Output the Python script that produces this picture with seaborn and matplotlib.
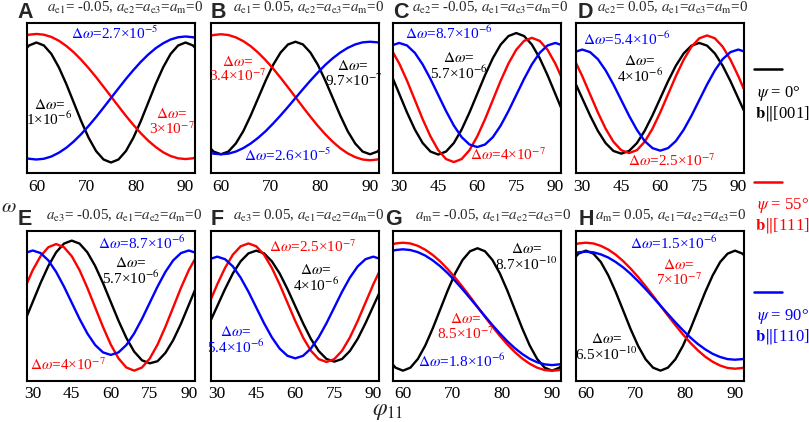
import matplotlib
matplotlib.use("Agg")
import matplotlib.pyplot as plt
import seaborn as sns
import pandas as pd

# sample grids of phi_11 (deg)
phi_narrow = [57, 58.5, 60, 61.5, 63, 64.5, 66, 67.5, 69, 70.5, 72, 73.5, 75,
              76.5, 78, 79.5, 81, 82.5, 84, 85.5, 87, 88.5, 90, 91.5, 93]
phi_wide = [27, 30, 33, 36, 39, 42, 45, 48, 51, 54, 57, 60, 63, 66, 69, 72, 75, 78, 81, 84, 87, 90, 93]

# normalised omega (0 = bottom of frame, 1 = top)
A_black = [0.794, 0.850, 0.870, 0.850, 0.794, 0.705, 0.594, 0.470, 0.346, 0.235, 0.146, 0.090, 0.070,
           0.090, 0.146, 0.235, 0.346, 0.470, 0.594, 0.705, 0.794, 0.850, 0.870, 0.850, 0.794]
A_red = [0.907, 0.922, 0.927, 0.922, 0.907, 0.882, 0.847, 0.805, 0.755, 0.699, 0.639, 0.575, 0.510,
         0.445, 0.381, 0.321, 0.265, 0.215, 0.173, 0.138, 0.113, 0.098, 0.093, 0.098, 0.113]
A_blue = [0.110, 0.095, 0.090, 0.095, 0.110, 0.135, 0.168, 0.210, 0.259, 0.314, 0.373, 0.436, 0.500,
          0.564, 0.627, 0.686, 0.741, 0.790, 0.832, 0.865, 0.890, 0.905, 0.910, 0.905, 0.890]

B_black = [0.197, 0.143, 0.125, 0.143, 0.197, 0.279, 0.384, 0.500, 0.616, 0.721, 0.803, 0.857, 0.875,
           0.857, 0.803, 0.721, 0.616, 0.500, 0.384, 0.279, 0.197, 0.143, 0.125, 0.143, 0.197]
B_red = [0.904, 0.920, 0.925, 0.920, 0.904, 0.879, 0.845, 0.802, 0.752, 0.696, 0.635, 0.571, 0.505,
         0.439, 0.375, 0.314, 0.258, 0.208, 0.165, 0.131, 0.106, 0.090, 0.085, 0.090, 0.106]
B_blue = [0.143, 0.129, 0.125, 0.129, 0.143, 0.166, 0.197, 0.235, 0.279, 0.330, 0.384, 0.441, 0.500,
          0.559, 0.616, 0.670, 0.721, 0.765, 0.803, 0.834, 0.857, 0.871, 0.875, 0.871, 0.857]

C_black = [0.653, 0.528, 0.403, 0.290, 0.200, 0.143, 0.123, 0.143, 0.200, 0.290, 0.403, 0.528, 0.653, 0.766, 0.856, 0.913, 0.933, 0.913, 0.856, 0.766, 0.653, 0.528, 0.403]
C_red = [0.822, 0.730, 0.615, 0.487, 0.359, 0.244, 0.152, 0.093, 0.073, 0.093, 0.152, 0.244, 0.359, 0.487, 0.615, 0.730, 0.822, 0.881, 0.901, 0.881, 0.822, 0.730, 0.615]
C_blue = [0.850, 0.867, 0.850, 0.801, 0.724, 0.627, 0.520, 0.413, 0.316, 0.239, 0.190, 0.173, 0.190, 0.239, 0.316, 0.413, 0.520, 0.627, 0.724, 0.801, 0.850, 0.867, 0.850]

D_black = [0.612, 0.498, 0.384, 0.281, 0.199, 0.147, 0.129, 0.147, 0.199, 0.281, 0.384, 0.498, 0.612, 0.715, 0.797, 0.849, 0.867, 0.849, 0.797, 0.715, 0.612, 0.498, 0.384]
D_red = [0.755, 0.646, 0.525, 0.404, 0.295, 0.208, 0.152, 0.133, 0.152, 0.208, 0.295, 0.404, 0.525, 0.646, 0.755, 0.842, 0.898, 0.917, 0.898, 0.842, 0.755, 0.646, 0.525]
D_blue = [0.806, 0.823, 0.806, 0.759, 0.684, 0.590, 0.486, 0.382, 0.288, 0.213, 0.166, 0.149, 0.166, 0.213, 0.288, 0.382, 0.486, 0.590, 0.684, 0.759, 0.806, 0.823, 0.806]

E_black = [0.399, 0.525, 0.651, 0.765, 0.856, 0.914, 0.934, 0.914, 0.856, 0.765, 0.651, 0.525, 0.399, 0.285, 0.194, 0.136, 0.116, 0.130, 0.185, 0.270, 0.380, 0.505, 0.630]
E_red = [0.619, 0.737, 0.830, 0.890, 0.911, 0.890, 0.830, 0.737, 0.619, 0.489, 0.359, 0.241, 0.148, 0.088, 0.067, 0.088, 0.148, 0.241, 0.359, 0.489, 0.619, 0.737, 0.830]
E_blue = [0.851, 0.868, 0.851, 0.802, 0.725, 0.628, 0.520, 0.412, 0.315, 0.238, 0.189, 0.172, 0.189, 0.238, 0.315, 0.412, 0.520, 0.628, 0.725, 0.802, 0.851, 0.868, 0.851]

F_black = [0.383, 0.497, 0.611, 0.715, 0.796, 0.849, 0.867, 0.849, 0.796, 0.715, 0.611, 0.497, 0.383, 0.279, 0.198, 0.145, 0.127, 0.145, 0.198, 0.279, 0.383, 0.497, 0.611]
F_red = [0.520, 0.642, 0.752, 0.840, 0.896, 0.915, 0.896, 0.840, 0.752, 0.642, 0.520, 0.398, 0.288, 0.200, 0.144, 0.125, 0.144, 0.200, 0.288, 0.398, 0.520, 0.642, 0.752]
F_blue = [0.810, 0.827, 0.810, 0.762, 0.687, 0.593, 0.488, 0.383, 0.289, 0.214, 0.166, 0.149, 0.166, 0.214, 0.289, 0.383, 0.488, 0.593, 0.687, 0.762, 0.810, 0.827, 0.810]

G_black = [0.145, 0.087, 0.067, 0.087, 0.145, 0.235, 0.349, 0.475, 0.601, 0.715, 0.805, 0.863, 0.883,
           0.863, 0.805, 0.715, 0.601, 0.475, 0.349, 0.235, 0.145, 0.087, 0.067, 0.087, 0.145]
G_red = [0.899, 0.915, 0.920, 0.915, 0.899, 0.873, 0.838, 0.795, 0.744, 0.687, 0.625, 0.560, 0.493,
         0.426, 0.361, 0.299, 0.242, 0.191, 0.148, 0.113, 0.087, 0.071, 0.066, 0.071, 0.087]
G_blue = [0.857, 0.871, 0.876, 0.871, 0.857, 0.834, 0.802, 0.763, 0.717, 0.665, 0.609, 0.550, 0.490,
          0.430, 0.371, 0.315, 0.263, 0.217, 0.178, 0.146, 0.123, 0.109, 0.104, 0.109, 0.123]

H_black = [0.791, 0.847, 0.867, 0.847, 0.791, 0.702, 0.591, 0.467, 0.343, 0.232, 0.143, 0.087, 0.067,
           0.087, 0.143, 0.232, 0.343, 0.467, 0.591, 0.702, 0.791, 0.847, 0.867, 0.847, 0.791]
H_red = [0.899, 0.915, 0.920, 0.915, 0.899, 0.874, 0.840, 0.797, 0.747, 0.691, 0.630, 0.566, 0.500,
         0.434, 0.370, 0.309, 0.253, 0.203, 0.160, 0.126, 0.101, 0.085, 0.080, 0.085, 0.101]
H_blue = [0.842, 0.856, 0.860, 0.856, 0.842, 0.821, 0.791, 0.755, 0.712, 0.663, 0.611, 0.556, 0.500,
          0.444, 0.389, 0.337, 0.288, 0.245, 0.209, 0.179, 0.158, 0.144, 0.140, 0.144, 0.158]

letters = ["A", "B", "C", "D", "E", "F", "G", "H"]
titles = [
    r"$a_{\mathrm{e1}}$= -0.05, $a_{\mathrm{e2}}$=$a_{\mathrm{e3}}$=$a_{\mathrm{m}}$=0",
    r"$a_{\mathrm{e1}}$= 0.05, $a_{\mathrm{e2}}$=$a_{\mathrm{e3}}$=$a_{\mathrm{m}}$=0",
    r"$a_{\mathrm{e2}}$= -0.05, $a_{\mathrm{e1}}$=$a_{\mathrm{e3}}$=$a_{\mathrm{m}}$=0",
    r"$a_{\mathrm{e2}}$= 0.05, $a_{\mathrm{e1}}$=$a_{\mathrm{e3}}$=$a_{\mathrm{m}}$=0",
    r"$a_{\mathrm{e3}}$= -0.05, $a_{\mathrm{e1}}$=$a_{\mathrm{e2}}$=$a_{\mathrm{m}}$=0",
    r"$a_{\mathrm{e3}}$= 0.05, $a_{\mathrm{e1}}$=$a_{\mathrm{e2}}$=$a_{\mathrm{m}}$=0",
    r"$a_{\mathrm{m}}$= -0.05, $a_{\mathrm{e1}}$=$a_{\mathrm{e2}}$=$a_{\mathrm{e3}}$=0",
    r"$a_{\mathrm{m}}$= 0.05, $a_{\mathrm{e1}}$=$a_{\mathrm{e2}}$=$a_{\mathrm{e3}}$=0",
]
curves = [
    (A_black, A_red, A_blue), (B_black, B_red, B_blue),
    (C_black, C_red, C_blue), (D_black, D_red, D_blue),
    (E_black, E_red, E_blue), (F_black, F_red, F_blue),
    (G_black, G_red, G_blue), (H_black, H_red, H_blue),
]
wide = [False, False, True, True, True, True, False, False]

D = r"$\Delta\omega$="
# (text, x, y, colour) per panel
notes = [
    [(D + r"2.7×10$^{-5}$", 75.8, 0.93, "blue"), (D + "\n" + r"1×10$^{-6}$", 62.6, 0.40, "black"),
     (D + "\n" + r"3×10$^{-7}$", 87.3, 0.34, "red")],
    [(D + "\n" + r"3.4×10$^{-7}$", 63.4, 0.69, "red"), (D + "\n" + r"9.7×10$^{-7}$", 86.6, 0.66, "black"),
     (D + r"2.6×10$^{-5}$", 73.5, 0.12, "blue")],
    [(D + r"8.7×10$^{-6}$", 48.9, 0.93, "blue"), (D + "\n" + r"5.7×10$^{-6}$", 52.7, 0.71, "black"),
     (D + r"4×10$^{-7}$", 71.9, 0.12, "red")],
    [(D + r"5.4×10$^{-6}$", 47.1, 0.89, "blue"), (D + "\n" + r"4×10$^{-6}$", 52.2, 0.69, "black"),
     (D + r"2.5×10$^{-7}$", 64.3, 0.08, "red")],
    [(D + r"8.7×10$^{-6}$", 72.0, 0.92, "blue"), (D + "\n" + r"5.7×10$^{-6}$", 67.5, 0.73, "black"),
     (D + r"4×10$^{-7}$", 43.6, 0.11, "red")],
    [(D + r"2.5×10$^{-7}$", 66.8, 0.89, "red"), (D + "\n" + r"4×10$^{-6}$", 67.8, 0.68, "black"),
     (D + "\n" + r"5.4×10$^{-6}$", 37.2, 0.27, "blue")],
    [(D + "\n" + r"8.7×10$^{-10}$", 84.9, 0.82, "black"), (D + "\n" + r"8.5×10$^{-7}$", 72.6, 0.36, "red"),
     (D + r"1.8×10$^{-6}$", 71.9, 0.13, "blue")],
    [(D + r"1.5×10$^{-6}$", 77.7, 0.92, "blue"), (D + "\n" + r"7×10$^{-7}$", 78.7, 0.72, "red"),
     (D + "\n" + r"6.5×10$^{-10}$", 64.2, 0.22, "black")],
]

legend_psi = [r"$\psi$ = 0°", r"$\psi$ = 55°", r"$\psi$ = 90°"]
legend_b = [r"$\mathbf{b}\Vert$[001]", r"$\mathbf{b}\Vert$[111]", r"$\mathbf{b}\Vert$[110]"]
colors = ["black", "red", "blue"]

sns.set_theme(style="white")
plt.rcParams["font.family"] = ["Liberation Serif", "DejaVu Serif"]
plt.rcParams["mathtext.fontset"] = "stix"

W, H = 809, 422
fig = plt.figure(figsize=(W / 100, H / 100), dpi=100)

col_left = [26.5, 211, 393, 576]
row_top = [23, 230.7]
aw, ah = 168, 150
letter_dx = [-9, 0, 0, 2, -9, 0, -8, 3]   # px offset of panel letter from frame edge
title_dx = [20.5, 22, 19, 21, 20, 22, 22, 19]

for i in range(8):
    r, c = divmod(i, 4)
    ax = fig.add_axes([col_left[c] / W, 1 - (row_top[r] + ah) / H, aw / W, ah / H])
    xs = phi_wide if wide[i] else phi_narrow
    df = pd.concat([pd.DataFrame({"phi": xs, "omega": vals, "psi": lab})
                    for vals, lab in zip(curves[i], ["0", "55", "90"])])
    sns.lineplot(data=df, x="phi", y="omega", hue="psi", sort=False,
                 palette={"0": "black", "55": "red", "90": "blue"},
                 linewidth=1.7, legend=False, ax=ax)
    if wide[i]:
        ax.set_xlim(27.6, 92.2)
        ax.set_xticks([30, 45, 60, 75, 90])
    else:
        ax.set_xlim(58.0, 91.8)
        ax.set_xticks([60, 70, 80, 90])
    ax.set_ylim(0, 1)
    ax.set_yticks([])
    ax.set_xlabel("")
    ax.set_ylabel("")
    for s in ax.spines.values():
        s.set_linewidth(1.5)
        s.set_color("black")
    ax.tick_params(axis="x", direction="in", length=3, width=1.2, labelsize=12.5, pad=4, colors="black")
    ax.text(letter_dx[i] / aw, 1.035, letters[i], transform=ax.transAxes, fontsize=15.5,
            fontweight="bold", family="Liberation Sans", va="baseline", ha="left")
    ax.text(title_dx[i] / aw, 1.072, titles[i], transform=ax.transAxes, fontsize=10.8,
            va="baseline", ha="left")
    for txt, x, y, col in notes[i]:
        ax.text(x, y, txt, color=col, fontsize=11, ha="center", va="center",
                multialignment="center", linespacing=0.95)

fig.text(8.5 / W, 1 - 207 / H, r"$\omega$", fontsize=15, ha="center", va="center")
fig.text(388 / W, 1 - 411 / H, r"$\varphi_{11}$", fontsize=17, ha="center", va="center")

line_y = [69.3, 181.7, 292.3]
for k in range(3):
    y = line_y[k]
    fig.add_artist(plt.Line2D([754 / W, 782 / W], [1 - y / H, 1 - y / H],
                              color=colors[k], lw=1.8, transform=fig.transFigure))
    fig.text(757 / W, 1 - (y + 24) / H, legend_psi[k], color=colors[k], fontsize=12,
             ha="left", va="center")
    fig.text(755 / W, 1 - (y + 44) / H, legend_b[k], color=colors[k], fontsize=12,
             ha="left", va="center")

fig.savefig("out.png", dpi=100)
